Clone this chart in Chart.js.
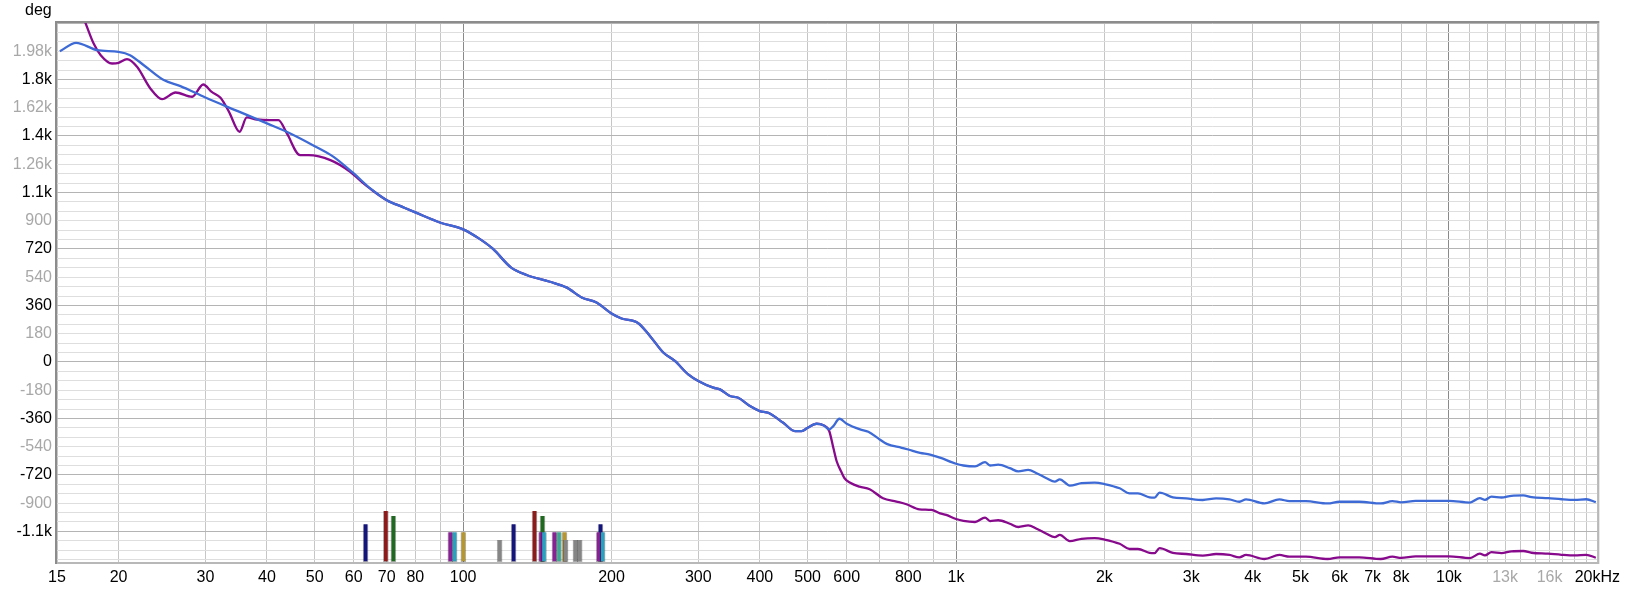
<!DOCTYPE html>
<html lang="en">
<head>
    <meta charset="UTF-8">
    <title>Phase</title>
    <script src="https://cdn.jsdelivr.net/npm/chart.js"></script>
    <style>
        body {
            margin: 0;
            background: #fff;
        }
        #phaseChart {
            display: block;
        }
    </style>
</head>
<body>
    <canvas id="phaseChart" width="1626" height="590"></canvas>

    <script>
        // blue trace (Hz / deg)
        const blueFreq = [15.2, 16.4, 18.1, 20, 21.1, 22.5, 24.7, 26.7, 30, 34.8,
            40, 44.6, 50, 54.6, 60, 64.8, 70, 75.7, 80, 90,
            100, 108, 115, 125, 134.5, 150, 162, 174, 186.5, 200,
            209.6, 226.6, 239.3, 254.7, 268.9, 286.2, 300, 321.7, 331.9, 347.8,
            361.5, 381.9, 400, 415.9, 446.2, 471.2, 486.1, 500, 521.4, 538,
            553.3, 563.7, 579.8, 600, 638.7, 663.8, 700, 723.4, 775.7, 800,
            845.2, 885.7, 928, 1000, 1035, 1093, 1145, 1172, 1218, 1286,
            1338, 1401, 1457, 1526, 1586, 1624, 1701, 1797, 1911, 2000,
            2148, 2250, 2339, 2470, 2528, 2588, 2754, 2931, 3167, 3371,
            3586, 3757, 3876, 4223, 4529, 4745, 5127, 5672, 6000, 6573,
            7272, 7679, 8000, 8560, 10000, 11030, 11554, 11830, 12200, 12780,
            13390, 14150, 14710, 15900, 16920, 18000, 19000, 19860];
        const blueDeg = [1980, 2033, 1987, 1976, 1955, 1891, 1796, 1758, 1685, 1600,
            1520, 1456, 1375, 1307, 1201, 1106, 1031, 985, 953, 887,
            845, 784, 720, 603, 554, 511, 475, 411, 379, 309,
            277, 247, 166, 60, 6, -79, -121, -164, -175, -217,
            -228, -281, -313, -324, -388, -441, -441, -420, -394, -403,
            -430, -409, -362, -394, -430, -445, -494, -522, -547, -558,
            -579, -590, -610, -649, -660, -666, -638, -660, -655, -677,
            -698, -688, -709, -741, -763, -748, -788, -773, -769, -778,
            -805, -838, -838, -863, -865, -833, -863, -870, -880, -870,
            -876, -891, -876, -902, -876, -887, -887, -902, -891, -891,
            -902, -887, -895, -885, -885, -896, -868, -879, -858, -864,
            -853, -851, -862, -868, -875, -879, -875, -894];

        // purple trace (Hz / deg)
        const purpleFreq = [15, 16, 17.1, 17.8, 18.4, 19.4, 20, 20.8, 21.8, 23.2,
            24.5, 26.1, 28.2, 29.7, 30.9, 32.2, 33.5, 35.2, 36.4, 38.2,
            40.6, 42.2, 43.9, 46.7, 48.6, 53.8, 59, 62.8, 64.8, 70,
            75.7, 80, 90, 100, 108, 115, 125, 134.5, 150, 162,
            174, 186.5, 200, 209.6, 226.6, 239.3, 254.7, 268.9, 286.2, 300,
            321.7, 331.9, 347.8, 361.5, 381.9, 400, 415.9, 446.2, 471.2, 486.1,
            500, 521.4, 538, 553, 563.7, 572.6, 585, 594, 610, 637,
            668, 711, 757, 793, 843, 891, 928, 955, 1000, 1035,
            1093, 1145, 1172, 1218, 1286, 1338, 1401, 1457, 1526, 1586,
            1624, 1701, 1797, 1911, 2000, 2148, 2250, 2339, 2470, 2528,
            2588, 2754, 2931, 3167, 3371, 3586, 3757, 3876, 4223, 4529,
            4745, 5127, 5672, 6000, 6573, 7272, 7679, 8000, 8560, 10000,
            11030, 11554, 11830, 12200, 12780, 13390, 14150, 14710, 15900, 16920,
            18000, 19000, 19860];
        const purpleDeg = [2600, 2390, 2167, 2029, 1955, 1902, 1906, 1930, 1881, 1743,
            1675, 1717, 1690, 1768, 1721, 1683, 1594, 1467, 1558, 1545,
            1541, 1541, 1456, 1318, 1318, 1286, 1212, 1138, 1104, 1031,
            985, 953, 887, 845, 784, 720, 603, 554, 511, 475,
            411, 379, 309, 277, 247, 166, 60, 6, -79, -121,
            -164, -175, -217, -228, -281, -313, -324, -388, -441, -441,
            -420, -394, -403, -440, -547, -633, -700, -741, -770, -795,
            -811, -869, -890, -907, -939, -943, -965, -975, -1001, -1013,
            -1020, -992, -1014, -1009, -1031, -1052, -1042, -1063, -1095, -1117,
            -1102, -1142, -1127, -1123, -1132, -1159, -1192, -1192, -1217, -1219,
            -1187, -1217, -1224, -1234, -1224, -1230, -1245, -1230, -1256, -1230,
            -1241, -1241, -1256, -1245, -1245, -1256, -1241, -1249, -1239, -1239,
            -1250, -1222, -1233, -1212, -1218, -1207, -1205, -1216, -1222, -1229,
            -1233, -1229, -1248];

        // mode markers along the bottom: frequency, top value, group
        const modeFreq = [63.4, 69.7, 72.2, 94.2, 96.1, 100.1, 118.6, 126.6, 139.6, 144.9,
            143.9, 145.9, 153.2, 156.5, 160.6, 161.4, 169, 172.4, 190, 188.4, 191.9];
        const modeTop = [-1034, -950, -982, -1085, -1085, -1085, -1134, -1034, -950, -982,
            -1085, -1085, -1085, -1085, -1085, -1134, -1134, -1134, -1034, -1085, -1085];
        const modeGroup = [0, 1, 2, 3, 4, 5, 6, 0, 1, 2,
            3, 4, 3, 7, 5, 6, 6, 6, 0, 3, 4];

        // axis ticks
        const xTickVals = [15, 20, 30, 40, 50, 60, 70, 80, 100, 200, 300, 400, 500, 600, 800,
            1000, 2000, 3000, 4000, 5000, 6000, 7000, 8000, 10000, 13000, 16000, 20000];
        const xTickLabels = ['15', '20', '30', '40', '50', '60', '70', '80', '100', '200', '300', '400', '500', '600', '800',
            '1k', '2k', '3k', '4k', '5k', '6k', '7k', '8k', '10k', '13k', '16k', '20kHz'];
        const yTickVals = [-1080, -900, -720, -540, -360, -180, 0, 180, 360, 540, 720, 900,
            1080, 1260, 1440, 1620, 1800, 1980];
        const yTickLabels = ['-1.1k', '-900', '-720', '-540', '-360', '-180', '0', '180', '360', '540', '720', '900',
            '1.1k', '1.26k', '1.4k', '1.62k', '1.8k', '1.98k'];

        const yMin = -1275;
        const yMax = 2160;

        // styles
        const modePalette = ['#14147e', '#8e1a1a', '#1e6a1e', '#8a2096', '#2aa0c0', '#b8962e', '#858585', '#3aa894'];
        const dimLabels = ['13k', '16k'];

        Chart.defaults.font.family = "'Liberation Sans', Arial, sans-serif";
        Chart.defaults.font.size = 16;

        const tickVal = c => (c && c.tick ? c.tick.value : null);

        const framePlugin = {
            id: 'frame',
            afterDatasetsDraw(chart) {
                const { ctx, chartArea: a } = chart;
                ctx.save();
                ctx.lineWidth = 2;
                ctx.strokeStyle = '#b8b8b8';
                ctx.beginPath();
                ctx.moveTo(a.left, a.bottom + 1);
                ctx.lineTo(a.right + 1, a.bottom + 1);
                ctx.lineTo(a.right + 1, a.top);
                ctx.stroke();
                ctx.strokeStyle = '#8c8c8c';
                ctx.beginPath();
                ctx.moveTo(a.left - 1, a.bottom + 2);
                ctx.lineTo(a.left - 1, a.top - 1);
                ctx.lineTo(a.right + 2, a.top - 1);
                ctx.stroke();
                ctx.restore();
            },
            afterDraw(chart) {
                const ctx = chart.ctx;
                ctx.save();
                ctx.fillStyle = '#000';
                ctx.font = "16px 'Liberation Sans', Arial, sans-serif";
                ctx.textBaseline = 'middle';
                ctx.fillText('deg', 25, 11);
                ctx.restore();
            }
        };

        const xGrid = [15];
        for (let dec = 10; dec <= 1000; dec *= 10) {
            for (let m = 2; m <= 10; m++) xGrid.push(m * dec);
        }
        for (let k = 11; k <= 20; k++) xGrid.push(k * 1000);

        const yGrid = [];
        for (let v = -1260; v <= yMax; v += 60) yGrid.push(v);

        const ctx = document.getElementById('phaseChart').getContext('2d');
        const phaseChart = new Chart(ctx, {
            type: 'line',
            data: {
                datasets: [{
                    label: 'blue',
                    data: blueFreq.map((f, i) => ({ x: f, y: blueDeg[i] })),
                    borderColor: '#3e6ad6',
                    borderWidth: 2.3,
                    pointRadius: 0,
                    cubicInterpolationMode: 'monotone',
                    fill: false
                }, {
                    label: 'purple',
                    data: purpleFreq.map((f, i) => ({ x: f, y: purpleDeg[i] })),
                    borderColor: '#880a8c',
                    borderWidth: 2.3,
                    pointRadius: 0,
                    cubicInterpolationMode: 'monotone',
                    fill: false
                }, {
                    type: 'bar',
                    label: 'modes',
                    data: modeFreq.map((f, i) => ({ x: f, y: [yMin, modeTop[i]] })),
                    backgroundColor: modeGroup.map(g => modePalette[g]),
                    borderColor: 'rgba(0,0,0,0.3)',
                    borderWidth: 1,
                    barThickness: 5,
                    grouped: false
                }]
            },
            options: {
                responsive: false,
                animation: false,
                layout: { padding: { top: 23, right: 28, bottom: 0, left: 0 } },
                plugins: {
                    legend: { display: false },
                    tooltip: { enabled: false }
                },
                scales: {
                    x: {
                        type: 'logarithmic',
                        min: 15,
                        max: 20000,
                        offset: false,
                        border: { display: false },
                        afterBuildTicks: s => { s.ticks = xGrid.map(v => ({ value: v })); },
                        afterFit: s => { s.height = 28; },
                        grid: {
                            offset: false,
                            drawTicks: false,
                            color: c => ([100, 1000, 10000].includes(tickVal(c)) ? '#8a8a8a' : '#c6c6c6')
                        },
                        ticks: {
                            autoSkip: false,
                            maxRotation: 0,
                            minRotation: 0,
                            padding: 6,
                            callback: v => {
                                const i = xTickVals.indexOf(v);
                                return i >= 0 ? xTickLabels[i] : '';
                            },
                            color: c => {
                                const i = xTickVals.indexOf(tickVal(c));
                                return i >= 0 && dimLabels.includes(xTickLabels[i]) ? '#a8a8a8' : '#000';
                            }
                        }
                    },
                    y: {
                        min: yMin,
                        max: yMax,
                        border: { display: false },
                        afterBuildTicks: s => { s.ticks = yGrid.map(v => ({ value: v })); },
                        afterFit: s => { s.width = 57; },
                        grid: {
                            drawTicks: false,
                            color: c => (tickVal(c) !== null && tickVal(c) % 360 === 0 ? '#b4b4b4' : '#dedede')
                        },
                        ticks: {
                            autoSkip: false,
                            padding: 5,
                            callback: v => {
                                const i = yTickVals.indexOf(v);
                                return i >= 0 ? yTickLabels[i] : '';
                            },
                            color: c => (tickVal(c) !== null && Math.abs(tickVal(c) / 180) % 2 === 1 ? '#a8a8a8' : '#000')
                        }
                    }
                }
            },
            plugins: [framePlugin]
        });
    </script>
</body>
</html>
